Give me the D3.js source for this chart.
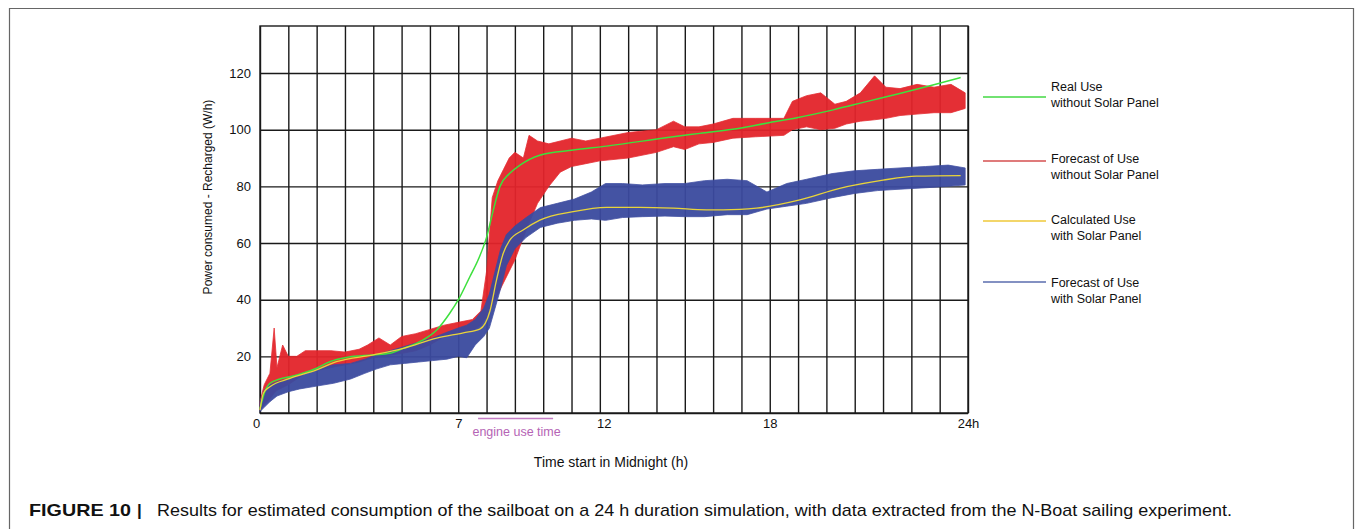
<!DOCTYPE html>
<html>
<head>
<meta charset="utf-8">
<script src="https://cdn.jsdelivr.net/npm/d3@7"></script>
<style>
  body { margin: 0; background: #fff; }
  svg { display: block; font-family: "Liberation Sans", Arial, sans-serif; }
  .grid line, .grid path { stroke: #1a1a1a; stroke-width: 1.4; }
</style>
</head>
<body>
<div class="container"></div>
<script>
// ---- data (x in hours of the drawn grid) ----
var greenT = [0, 0.15, 0.35, 0.7, 1.06, 1.5, 2, 2.47, 3.06, 4, 4.59, 5.06, 5.76, 6.24, 6.7, 7, 7.41, 7.7, 8, 8.24, 8.47, 8.82, 9.18, 9.88, 11.06, 12.24, 14.59, 15.53, 16.94, 17.88, 19, 20.24, 21.41, 22.59, 23.76, 24.74];
var greenV = [1.5, 7, 10.5, 12, 12.8, 14, 15.8, 18.1, 19.6, 20.5, 21.1, 22.8, 25.8, 29.3, 35.2, 39.9, 48.1, 54, 62, 71.7, 79.9, 84.6, 87.5, 91, 92.8, 94.2, 97.5, 98.7, 100.5, 102.3, 104.3, 107, 109.9, 112.8, 115.8, 118.4];

var yellowT = [0, 0.12, 0.35, 1.06, 2, 2.7, 4, 5.06, 6.24, 7.18, 7.76, 8.12, 8.35, 8.59, 8.82, 9.29, 9.88, 11.06, 12.24, 13.41, 14.59, 15.76, 16.94, 17.53, 19.06, 20.47, 22, 23.18, 24.74];
var yellowV = [1, 7, 9.3, 12.2, 15.2, 18.1, 20.5, 22.8, 26.4, 28.3, 29.6, 36, 46.9, 56.4, 61, 64.6, 68.1, 71.1, 72.6, 72.6, 72.3, 71.7, 71.9, 72.3, 75.2, 79.3, 82.2, 83.6, 83.8];

var redT    = [0, 0.15, 0.35, 0.5, 0.6, 0.8, 1.0, 1.3, 1.6, 2.0, 2.5, 3.0, 3.5, 3.8, 4.2, 4.6, 5.0, 5.5, 6.0, 6.5, 7.0, 7.5, 7.8, 8.0, 8.2, 8.4, 8.6, 8.8, 9.0, 9.3, 9.5, 9.8, 10.2, 10.6, 11.0, 11.5, 12.0, 13.0, 14.0, 14.6, 15.0, 15.5, 16.0, 16.7, 17.5, 18.5, 18.8, 19.3, 19.8, 20.3, 20.7, 21.2, 21.7, 22.1, 22.6, 23.2, 23.8, 24.4, 24.9];
var redLow  = [1, 3, 5, 7, 8, 9, 10, 12, 14, 15, 16, 17, 18, 19, 20, 20.5, 21, 22, 24, 27, 28, 29, 31, 34, 38, 42, 46, 50, 54, 62, 67, 74, 80, 85, 87, 88, 89, 90, 92, 94, 93, 95, 95.5, 97, 97.5, 98, 100, 101, 100, 100.5, 102, 103, 103.5, 104, 105, 105.5, 106, 106, 107.5];
var redHigh = [4, 10, 14, 30, 16, 24, 20, 20, 22, 22, 22, 21.5, 22.5, 24, 26.5, 24, 27, 28, 29.5, 31, 32, 33, 36, 50, 76, 82, 86, 90, 92, 90, 98, 96, 95, 96, 97, 96, 97, 99, 100, 103, 101, 101, 102, 104, 104, 104, 110, 112, 113, 109, 110, 113, 119, 115, 114.5, 116, 115, 116, 113];

var blueT    = [0, 0.15, 0.35, 0.6, 1.0, 1.4, 2.0, 2.6, 3.2, 3.7, 4.1, 4.6, 5.1, 5.6, 6.1, 6.6, 7.0, 7.3, 7.6, 7.9, 8.1, 8.3, 8.5, 8.7, 9.0, 9.4, 9.9, 10.5, 11.1, 11.7, 12.2, 12.8, 13.5, 14.3, 15.0, 15.7, 16.5, 17.2, 17.9, 18.6, 19.3, 20.2, 21.0, 21.8, 22.6, 23.5, 24.3, 24.9];
var blueLow  = [0.5, 2, 4, 6, 7.5, 8.5, 9.5, 10.5, 12, 14, 15.5, 17, 17.5, 18, 18.5, 19, 20, 19.5, 24, 27, 30, 37, 44, 52, 58, 62, 65.5, 67, 68, 68.5, 68, 69, 69.3, 69.5, 69.3, 69.3, 70, 70, 72, 73, 74, 76, 77.5, 78.5, 79, 79.5, 80, 80.5];
var blueHigh = [4, 8, 10, 11, 12, 13, 15.5, 17, 17.5, 19, 20.5, 22, 23.5, 25, 26.5, 28.5, 30, 31, 33, 37, 42, 50, 58, 63, 66, 69, 72.5, 74, 75.5, 78, 81, 81, 80.5, 81, 81, 82, 82.5, 82, 78, 81, 82.5, 84.5, 85.5, 86, 86.5, 87, 87.5, 86.5];

var yTicks = [0, 20, 40, 60, 80, 100, 120];
var xTickPos = [0, 7, 12, 18, 25];
var xTickText = ['0', '7', '12', '18', '24h'];
var engineSpan = [7.7, 10.35];

var legendLabels = [
  ['Real Use', 'without Solar Panel'],
  ['Forecast of Use', 'without Solar Panel'],
  ['Calculated Use', 'with Solar Panel'],
  ['Forecast of Use', 'with Solar Panel']
];
var legendColors = ['#72e272', '#df7b7b', '#f3d66a', '#8391c2'];

// ---- layout ----
var W = 1355, H = 529;
var pLeft = 260, pRight = 968, pTop = 26, pBottom = 413;

var svg = d3.select('.container')
    .append('svg')
    .attr('width', W)
    .attr('height', H);

// outer frame
svg.append('path')
    .attr('d', 'M9.5,' + (H + 2) + 'V8.5H1353.5V' + (H + 2))
    .attr('fill', 'none')
    .attr('stroke', '#666')
    .attr('stroke-width', 1.2);

var x = d3.scaleLinear().domain([0, 25]).range([pLeft, pRight]);
var y = d3.scaleLinear().domain([0, 136.6]).range([pBottom, pTop]);

// grid
svg.append('g')
    .attr('class', 'grid')
    .attr('transform', 'translate(0,' + pBottom + ')')
    .call(d3.axisBottom(x).tickValues(d3.range(0, 26)).tickSize(-(pBottom - pTop)).tickFormat(''))
    .call(g => g.select('.domain').remove());

svg.append('g')
    .attr('class', 'grid')
    .attr('transform', 'translate(' + pLeft + ',0)')
    .call(d3.axisLeft(y).tickValues(yTicks).tickSize(-(pRight - pLeft)).tickFormat(''))
    .call(g => g.select('.domain').remove());

svg.append('rect')
    .attr('x', pLeft).attr('y', pTop)
    .attr('width', pRight - pLeft).attr('height', pBottom - pTop)
    .attr('fill', 'none')
    .attr('stroke', '#1a1a1a')
    .attr('stroke-width', 1.4);

// tick labels
svg.append('g')
    .attr('transform', 'translate(0,' + pBottom + ')')
    .call(d3.axisBottom(x).tickValues(xTickPos).tickSize(0).tickPadding(6)
        .tickFormat((d, i) => xTickText[i]))
    .call(g => g.select('.domain').remove())
    .call(g => g.selectAll('text')
        .attr('font-size', 13)
        .attr('font-family', '"Liberation Sans", Arial, sans-serif')
        .attr('fill', '#111')
        .attr('dx', (d, i) => i == 0 ? -4 : (i == 2 ? 4 : 0)));

svg.append('g')
    .attr('transform', 'translate(' + pLeft + ',0)')
    .call(d3.axisLeft(y).tickValues(yTicks.slice(1)).tickSize(0).tickPadding(9))
    .call(g => g.select('.domain').remove())
    .call(g => g.selectAll('text')
        .attr('font-size', 13)
        .attr('font-family', '"Liberation Sans", Arial, sans-serif')
        .attr('fill', '#111'));

// bands
function band(ts, lo, hi) {
    return d3.area()
        .x((d, i) => x(ts[i]))
        .y0((d, i) => y(lo[i]))
        .y1((d, i) => y(hi[i]))(ts);
}
function line(ts, vs) {
    return d3.line()
        .x((d, i) => x(ts[i]))
        .y((d, i) => y(vs[i]))
        .curve(d3.curveMonotoneX)(ts);
}

svg.append('path')
    .attr('d', band(redT, redLow, redHigh))
    .attr('fill', '#e3242b')
    .attr('stroke', '#e3242b')
    .attr('stroke-width', 0.8)
    .attr('opacity', 0.95);

svg.append('path')
    .attr('d', band(blueT, blueLow, blueHigh))
    .attr('fill', '#3b4a9f')
    .attr('stroke', '#3b4a9f')
    .attr('stroke-width', 0.8)
    .attr('opacity', 0.95);

svg.append('path')
    .attr('d', line(greenT, greenV))
    .attr('fill', 'none')
    .attr('stroke', '#3de03d')
    .attr('stroke-width', 1.5);

svg.append('path')
    .attr('d', line(yellowT, yellowV))
    .attr('fill', 'none')
    .attr('stroke', '#e9d43a')
    .attr('stroke-width', 1.3);

// engine use time
svg.append('line')
    .attr('x1', x(engineSpan[0])).attr('x2', x(engineSpan[1]))
    .attr('y1', 418.5).attr('y2', 418.5)
    .attr('stroke', '#c47cc4')
    .attr('stroke-width', 1.5);

svg.append('text')
    .attr('x', (x(engineSpan[0]) + x(engineSpan[1])) / 2 + 1)
    .attr('y', 435.5)
    .attr('text-anchor', 'middle')
    .attr('font-size', 12.5)
    .attr('fill', '#b564b5')
    .text('engine use time');

// axis titles
svg.append('text')
    .attr('transform', 'translate(212,197) rotate(-90)')
    .attr('text-anchor', 'middle')
    .attr('font-size', 12)
    .attr('fill', '#111')
    .text('Power consumed - Recharged (W/h)');

svg.append('text')
    .attr('x', 611)
    .attr('y', 467)
    .attr('text-anchor', 'middle')
    .attr('font-size', 14)
    .attr('fill', '#111')
    .text('Time start in Midnight (h)');

// legend
var legLineY = [97, 161, 221, 282];
var legTextY = [91, 163, 224, 287];
var leg = svg.append('g');
legendLabels.forEach(function(lab, i) {
    leg.append('line')
        .attr('x1', 983).attr('x2', 1046)
        .attr('y1', legLineY[i]).attr('y2', legLineY[i])
        .attr('stroke', legendColors[i])
        .attr('stroke-width', 1.8);
    var t = leg.append('text')
        .attr('x', 1051)
        .attr('y', legTextY[i])
        .attr('font-size', 12.5)
        .attr('fill', '#111');
    t.append('tspan').attr('x', 1051).text(lab[0]);
    t.append('tspan').attr('x', 1051).attr('dy', 15.5).text(lab[1]);
});

// caption
svg.append('text')
    .attr('x', 29)
    .attr('y', 516)
    .attr('font-size', 17)
    .attr('font-weight', 'bold')
    .attr('fill', '#111')
    .attr('textLength', 102)
    .attr('lengthAdjust', 'spacingAndGlyphs')
    .text('FIGURE 10');

svg.append('text')
    .attr('x', 137)
    .attr('y', 516)
    .attr('font-size', 17)
    .attr('font-weight', 'bold')
    .attr('fill', '#111')
    .text('|');

svg.append('text')
    .attr('x', 157)
    .attr('y', 516)
    .attr('font-size', 17)
    .attr('fill', '#111')
    .attr('textLength', 1075)
    .attr('lengthAdjust', 'spacingAndGlyphs')
    .text('Results for estimated consumption of the sailboat on a 24 h duration simulation, with data extracted from the N-Boat sailing experiment.');
</script>
</body>
</html>
